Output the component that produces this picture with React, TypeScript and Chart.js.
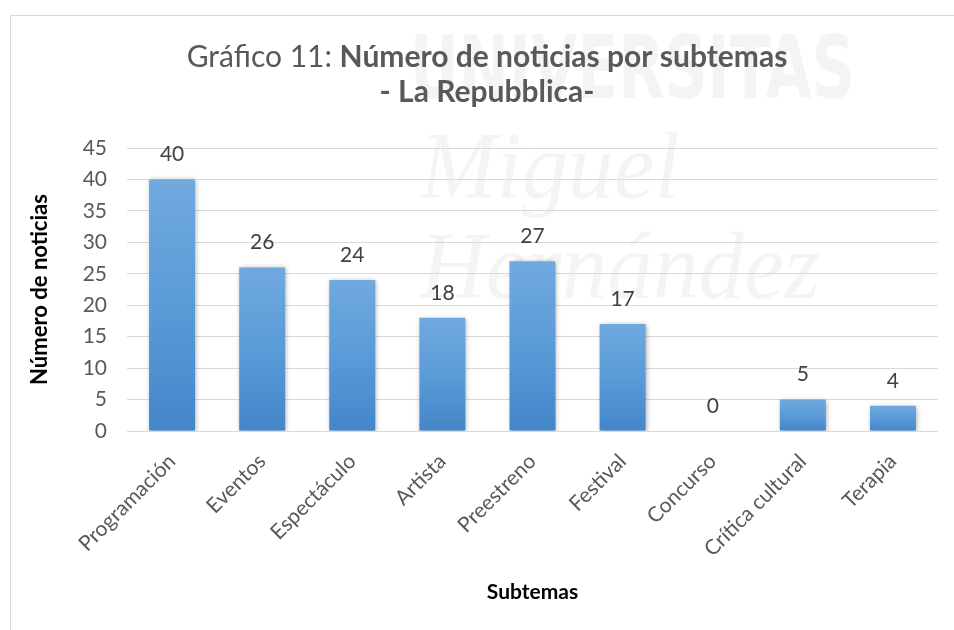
import React, { useEffect, useRef } from "react";
import { Chart, registerables } from "chart.js";

Chart.register(...registerables);

const categories = [
  "Programación",
  "Eventos",
  "Espectáculo",
  "Artista",
  "Preestreno",
  "Festival",
  "Concurso",
  "Crítica cultural",
  "Terapia",
];
const counts = [40, 26, 24, 18, 27, 17, 0, 5, 4];
const yMin = 0;
const yMax = 45;
const yStep = 5;
const titleRegular = "Gráfico 11: ";
const titleBold = "Número de noticias por subtemas";
const subtitle = "- La Repubblica-";
const yAxisTitle = "Número de noticias";
const xAxisTitle = "Subtemas";
const watermarkLines = ["UNIVERSITAS", "Miguel", "Hernández"];

const FONT = "Lato, 'Open Sans', sans-serif";

const decorPlugin = {
  id: "decor",
  beforeDraw(chart: any) {
    const ctx = chart.ctx;
    ctx.save();
    ctx.fillStyle = "#ffffff";
    ctx.fillRect(0, 0, chart.width, chart.height);
    // faint watermark
    ctx.fillStyle = "rgba(0,0,0,0.045)";
    ctx.textAlign = "left";
    ctx.textBaseline = "alphabetic";
    ctx.font = `bold 88px 'Liberation Sans Narrow', 'DejaVu Sans Condensed', sans-serif`;
    ctx.fillText(watermarkLines[0], 410, 98, 445);
    ctx.font = `italic 96px 'Liberation Serif', serif`;
    ctx.fillText(watermarkLines[1], 420, 198, 260);
    ctx.fillText(watermarkLines[2], 420, 298, 400);
    // frame
    ctx.strokeStyle = "#d9d9d9";
    ctx.lineWidth = 1;
    ctx.beginPath();
    ctx.moveTo(10.5, chart.height);
    ctx.lineTo(10.5, 15.5);
    ctx.lineTo(chart.width, 15.5);
    ctx.stroke();
    ctx.restore();
  },
  beforeDatasetsDraw(chart: any) {
    const ctx = chart.ctx;
    ctx.save();
    ctx.shadowColor = "rgba(0,0,0,0.35)";
    ctx.shadowBlur = 5;
    ctx.shadowOffsetX = 1;
    ctx.shadowOffsetY = 1;
  },
  afterDatasetsDraw(chart: any) {
    const ctx = chart.ctx;
    ctx.restore();
    ctx.save();
    // value labels
    const meta = chart.getDatasetMeta(0);
    ctx.fillStyle = "#404040";
    ctx.font = `21px ${FONT}`;
    ctx.textAlign = "center";
    ctx.textBaseline = "middle";
    meta.data.forEach((el: any, i: number) => {
      ctx.fillText(String(counts[i]), el.x, el.y - 25);
    });
    // title
    const cx = 487;
    ctx.fillStyle = "#595959";
    ctx.textBaseline = "alphabetic";
    ctx.textAlign = "left";
    const size = 30;
    ctx.font = `${size}px ${FONT}`;
    const w1 = ctx.measureText(titleRegular).width;
    ctx.font = `bold ${size}px ${FONT}`;
    const w2 = ctx.measureText(titleBold).width;
    let x = cx - (w1 + w2) / 2;
    ctx.font = `${size}px ${FONT}`;
    ctx.fillText(titleRegular, x, 67);
    ctx.font = `bold ${size}px ${FONT}`;
    ctx.fillText(titleBold, x + w1, 67);
    ctx.textAlign = "center";
    ctx.fillText(subtitle, cx, 102);
    ctx.restore();
  },
};

export default function App() {
  const ref = useRef<HTMLCanvasElement | null>(null);

  useEffect(() => {
    if (!ref.current) return;
    const chart = new Chart(ref.current, {
      type: "bar",
      data: {
        labels: categories,
        datasets: [
          {
            data: counts,
            categoryPercentage: 1,
            barPercentage: 0.51,
            borderWidth: 0,
            backgroundColor: (c: any) => {
              const ch = c.chart;
              if (!ch.chartArea || c.raw == null) return "#5b9bd5";
              const ys = ch.scales.y;
              const top = ys.getPixelForValue(c.raw);
              const bottom = ys.getPixelForValue(0);
              if (bottom - top < 1) return "#5b9bd5";
              const g = ch.ctx.createLinearGradient(0, top, 0, bottom);
              g.addColorStop(0, "#70a9de");
              g.addColorStop(0.5, "#5a9bd8");
              g.addColorStop(1, "#4386c9");
              return g;
            },
          },
        ],
      },
      options: {
        animation: false,
        responsive: false,
        maintainAspectRatio: false,
        layout: { padding: { top: 148, right: 16, left: 0, bottom: 0 } },
        plugins: {
          legend: { display: false },
          tooltip: { enabled: false },
          title: { display: false },
        },
        scales: {
          y: {
            min: yMin,
            max: yMax,
            afterFit: (s: any) => {
              s.width = 127;
            },
            ticks: {
              stepSize: yStep,
              color: "#595959",
              font: { family: FONT, size: 21 },
              padding: 20,
            },
            grid: { color: "#d9d9d9", lineWidth: 1, drawTicks: false },
            border: { display: false },
            title: {
              display: true,
              text: yAxisTitle,
              color: "#000000",
              font: { family: FONT, size: 22, weight: "bold" },
              padding: { top: 27, bottom: 0 },
            },
          },
          x: {
            afterFit: (s: any) => {
              s.height = 199;
            },
            ticks: {
              color: "#595959",
              font: { family: FONT, size: 21 },
              maxRotation: 45,
              minRotation: 45,
              autoSkip: false,
              padding: 10,
            },
            grid: { display: false },
            border: { display: false },
            title: {
              display: true,
              text: xAxisTitle,
              color: "#000000",
              font: { family: FONT, size: 21, weight: "bold" },
              padding: { top: 0, bottom: 25 },
            },
          },
        },
      },
      plugins: [decorPlugin],
    });
    return () => chart.destroy();
  }, []);

  return (
    <div style={{ position: "fixed", left: 0, top: 0, width: 954, height: 630 }}>
      <canvas ref={ref} width={954} height={630} style={{ display: "block" }} />
    </div>
  );
}
